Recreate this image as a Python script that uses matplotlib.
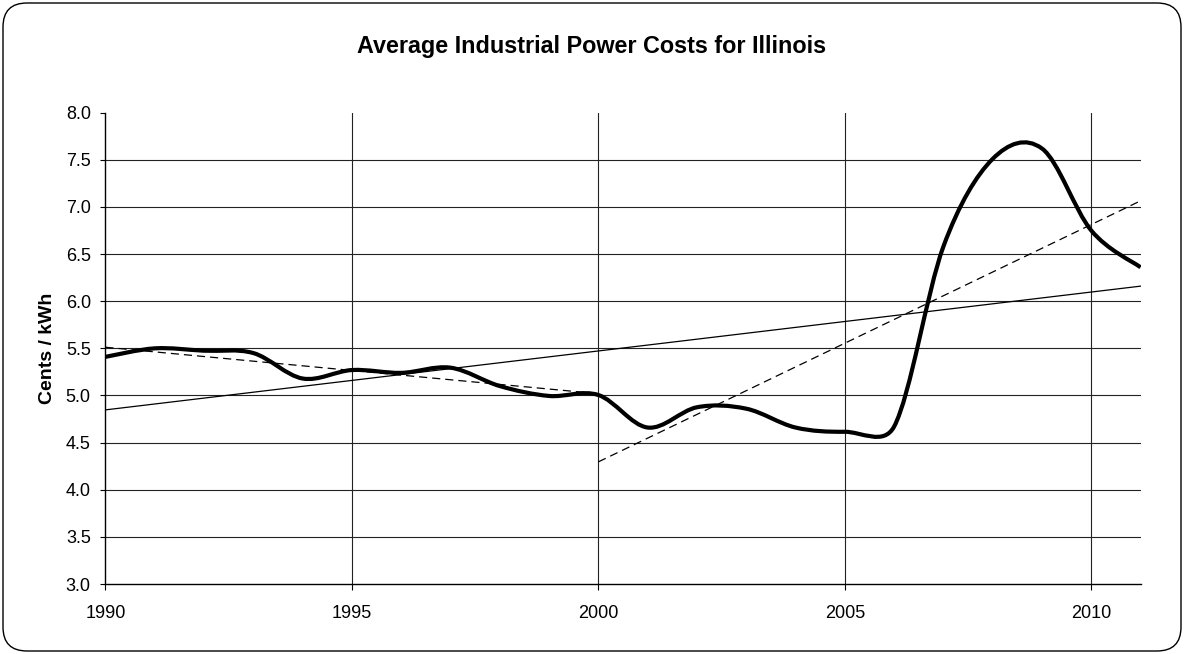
import numpy as np
import matplotlib.pyplot as plt
from matplotlib.path import Path
from matplotlib.patches import PathPatch, FancyBboxPatch

# yearly average industrial price, cents / kWh
years = list(range(1990, 2012))
cents = [5.41, 5.50, 5.475, 5.45, 5.18, 5.27, 5.24, 5.295, 5.10, 4.995, 5.005,
         4.66, 4.875, 4.86, 4.66, 4.615, 4.67, 6.58, 7.51, 7.62, 6.75, 6.36]

x_ticks = [1990, 1995, 2000, 2005, 2010]
y_ticks = [3.0, 3.5, 4.0, 4.5, 5.0, 5.5, 6.0, 6.5, 7.0, 7.5, 8.0]

# trend line segments (start year, end year)
trend_full = (1990, 2011)
trend_early = (1990, 2000)
trend_late = (2000, 2011)

title = 'Average Industrial Power Costs for Illinois'
ylabel = 'Cents / kWh'

plt.rcParams['font.family'] = ['Liberation Sans', 'DejaVu Sans']


def smooth_path(ax, xs, ys, f=1/6, cap=0.45):
    # Excel-like smoothed line: Catmull-Rom style Bezier through the points,
    # control arms limited relative to the neighbouring segment on screen
    pts = np.column_stack([xs, ys]).astype(float)
    disp = ax.transData.transform(pts)
    n = len(pts)
    outs, ins = [], []
    for i in range(n):
        a = max(i - 1, 0)
        b = min(i + 1, n - 1)
        t = (pts[b] - pts[a]) * f
        t_len = np.hypot(*((disp[b] - disp[a]) * f))
        d_prev = np.hypot(*(disp[i] - disp[a]))
        d_next = np.hypot(*(disp[b] - disp[i]))
        k_out = min(1.0, cap * d_next / t_len) if t_len > 0 else 0
        k_in = min(1.0, cap * d_prev / t_len) if t_len > 0 else 0
        outs.append(pts[i] + t * k_out)
        ins.append(pts[i] - t * k_in)
    verts = [pts[0]]
    codes = [Path.MOVETO]
    for i in range(n - 1):
        verts += [outs[i], ins[i + 1], pts[i + 1]]
        codes += [Path.CURVE4] * 3
    return Path(verts, codes)


def trend(x0, x1):
    xs = np.array([y for y in years if x0 <= y <= x1])
    ys = np.array([c for y, c in zip(years, cents) if x0 <= y <= x1])
    k, b = np.polyfit(xs, ys, 1)
    return [x0, x1], [k * x0 + b, k * x1 + b]


fig = plt.figure(figsize=(11.84, 6.54), dpi=100)
ax = fig.add_axes([0.0891, 0.107, 0.8742, 0.7207])
ax.set_xlim(1990, 2011)
ax.set_ylim(3, 8)
ax.set_xticks(x_ticks)
ax.set_yticks(y_ticks)
ax.set_yticklabels([f'{v:.1f}' for v in y_ticks])

for s in ['top', 'right']:
    ax.spines[s].set_visible(False)
for s in ['left', 'bottom']:
    ax.spines[s].set_color('black')
    ax.spines[s].set_linewidth(1.0)

ax.grid(True, color='#222222', linewidth=0.8)
ax.yaxis.get_gridlines()[0].set_visible(False)
ax.yaxis.get_gridlines()[-1].set_visible(False)
ax.xaxis.get_gridlines()[0].set_visible(False)
ax.set_axisbelow(True)

ax.tick_params(axis='y', length=3.6, width=0.8, pad=7, labelsize=13, direction='out')
ax.tick_params(axis='x', length=4.3, width=0.8, pad=11, labelsize=13, direction='out')

ax.set_ylabel(ylabel, fontsize=14, fontweight='bold', labelpad=7)

tx, ty = trend(*trend_full)
ax.plot(tx, ty, color='black', linewidth=0.9)
for seg in [trend_early, trend_late]:
    tx, ty = trend(*seg)
    ax.plot(tx, ty, color='black', linewidth=0.9, dashes=(6.5, 4))

path = smooth_path(ax, years, cents)
ax.add_patch(PathPatch(path, facecolor='none', edgecolor='black',
                       linewidth=3.0, capstyle='butt', joinstyle='round',
                       clip_on=True))

fig.text(0.5, 1 - 47 / 654, title, ha='center', va='center',
         fontsize=16.8, fontweight='bold')

border = FancyBboxPatch((0.03, 0.03), 11.78, 6.48,
                        boxstyle='round,pad=0,rounding_size=0.24',
                        transform=fig.dpi_scale_trans, facecolor='none',
                        edgecolor='black', linewidth=1.0)
fig.patches.append(border)

fig.savefig('out.png', dpi=100)
